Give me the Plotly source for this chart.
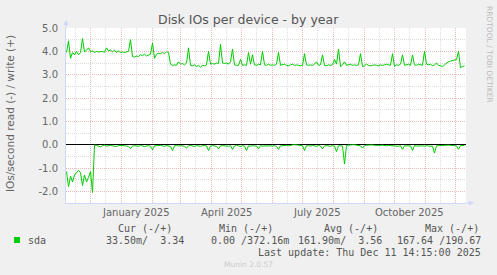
import plotly.graph_objects as go
import pandas as pd

# ---------------- data ----------------
range_start = "2024-11-06 14:15"
range_end = "2025-12-11 14:15"
sample_start = "2024-11-07 02:15"
sample_step = "2D"

write_ios = [
    3.95, 4.45, 3.70, 3.95, 3.85, 4.00, 3.85, 3.95, 4.55, 3.98,
    4.05, 4.15, 3.98, 4.02, 3.95, 4.00, 3.97, 3.98, 4.00, 3.96,
    4.15, 4.02, 4.05, 3.98, 4.05, 3.95, 4.02, 3.95, 3.97, 3.95,
    3.96, 4.00, 4.50, 3.78, 3.75, 3.80, 3.78, 3.85, 3.82, 3.88,
    3.80, 3.85, 3.88, 4.35, 3.70, 3.88, 3.92, 3.90, 3.95, 3.90,
    3.98, 3.95, 3.45, 3.40, 3.42, 3.40, 3.55, 3.45, 3.48, 3.42,
    3.50, 4.15, 3.40, 3.38, 3.42, 3.35, 3.40, 3.32, 3.40, 3.38,
    3.42, 4.00, 3.45, 3.48, 3.45, 3.50, 3.48, 4.30, 3.50, 3.48,
    3.50, 3.45, 3.55, 4.10, 3.42, 3.40, 3.40, 3.65, 3.40, 3.42,
    3.40, 3.95, 3.45, 3.85, 3.42, 3.40, 3.45, 3.42, 4.00, 3.42,
    3.40, 3.45, 3.40, 3.42, 3.40, 3.45, 3.95, 3.40, 3.42, 3.45,
    3.40, 3.38, 3.42, 3.45, 3.40, 3.42, 3.40, 3.38, 3.40, 3.90,
    3.42, 3.40, 3.42, 3.40, 3.45, 3.55, 3.40, 3.42, 3.85, 3.40,
    3.38, 3.42, 3.40, 3.42, 3.65, 3.45, 4.10, 3.35, 3.42, 3.55,
    3.40, 3.42, 3.45, 3.40, 3.42, 3.40, 3.42, 3.90, 3.35, 3.38,
    3.45, 3.40, 3.38, 3.40, 3.42, 3.40, 3.38, 3.42, 3.40, 3.42,
    3.45, 3.42, 3.40, 3.90, 3.35, 3.42, 3.40, 3.45, 3.85, 3.40,
    3.42, 3.45, 3.40, 3.85, 3.42, 3.40, 3.45, 3.42, 3.40, 4.00,
    3.45, 3.42, 3.45, 3.38, 3.42, 3.50, 3.40, 3.38, 3.35, 3.42,
    3.50, 3.55, 3.58, 3.60, 3.62, 3.65, 4.00, 3.30, 3.35, 3.38,
]

read_ios = [
    1.15, 1.80, 1.35, 1.60, 1.30, 1.20, 1.10, 1.20, 1.75, 1.30,
    1.60, 1.40, 1.15, 2.05, 0.02,
    0.03, 0.05, 0.10, 0.04, 0.02,
    0.06, 0.04, 0.03, 0.05, 0.08, 0.08, 0.04, 0.03, 0.05, 0.04,
    0.06, 0.08, 0.17, 0.06, 0.04, 0.05, 0.07, 0.03, 0.05, 0.08,
    0.06, 0.04, 0.07, 0.22, 0.05, 0.04, 0.06, 0.03, 0.05, 0.07,
    0.04, 0.06, 0.08, 0.25, 0.05, 0.03, 0.06, 0.04, 0.05, 0.07,
    0.15, 0.05, 0.03, 0.06, 0.08, 0.04, 0.05, 0.07, 0.04, 0.06,
    0.05, 0.25, 0.06, 0.04, 0.05, 0.07, 0.18, 0.05, 0.04, 0.06,
    0.05, 0.07, 0.04, 0.20, 0.06, 0.03, 0.05, 0.08, 0.04, 0.06,
    0.25, 0.05, 0.07, 0.04, 0.06, 0.05, 0.18, 0.04, 0.06, 0.05,
    0.07, 0.04, 0.05, 0.06, 0.04, 0.07, 0.20, 0.05, 0.04, 0.06,
    0.03, 0.05, 0.02, 0.01, 0.00, 0.01, 0.03, 0.05, 0.04, 0.25,
    0.05, 0.04, 0.06, 0.03, 0.05, 0.07, 0.04, 0.05, 0.18, 0.06,
    0.04, 0.05, 0.07, 0.04, 0.06, 0.30, 0.05, 0.04, 0.06, 0.83,
    0.04, 0.02, 0.01, 0.03, 0.00, 0.02, 0.04, 0.05, 0.15, 0.04,
    0.02, 0.01, 0.00, 0.01, 0.03, 0.04, 0.05, 0.03, 0.02, 0.04,
    0.05, 0.03, 0.04, 0.06, 0.04, 0.05, 0.07, 0.04, 0.20, 0.05,
    0.04, 0.06, 0.05, 0.25, 0.04, 0.06, 0.05, 0.03, 0.05, 0.07,
    0.04, 0.06, 0.05, 0.07, 0.36, 0.05, 0.04, 0.03, 0.05, 0.02,
    0.01, 0.02, 0.03, 0.02, 0.04, 0.05, 0.20, 0.04, 0.03, 0.03,
]

y_tick_vals = [-2, -1, 0, 1, 2, 3, 4, 5]
y_tick_text = ["-2.0", "-1.0", "0.0", "1.0", "2.0", "3.0", "4.0", "5.0"]
x_label_dates = ["2025-01-16", "2025-04-16", "2025-07-16", "2025-10-16"]
x_label_text = ["January 2025", "April 2025", "July 2025", "October 2025"]

title_text = "Disk IOs per device - by year"
y_title = "IOs/second read (-) / write (+)"
series_name = "sda"
legend_headers = ["Cur (-/+)", "Min (-/+)", "Avg (-/+)", "Max (-/+)"]
legend_values = ["33.50m/\u00a0\u00a03.34", "0.00 /372.16m", "161.90m/\u00a0\u00a03.56", "167.64 /190.67"]
last_update = "Last update: Thu Dec 11 14:15:00 2025"
side_text = "RRDTOOL / TOBI OETIKER"
footer_text = "Munin 2.0.57"

# ---------------- layout geometry ----------------
W, H = 497, 275
L, T = 66, 28
PW, PH = 400, 175
GREEN = "#00CC00"
FONT_C = "#666666"
AXIS_C = "#CFD6F8"
MGRID = "#EDB9B9"
GRID = "#DCDCDC"
SANS = "DejaVu Sans"
MONO = "DejaVu Sans Mono"


def px(x):
    return (x - L) / PW


def py(y):
    return (T + PH - y) / PH


dates = pd.date_range(sample_start, periods=len(write_ios), freq=sample_step)

fig = go.Figure()
fig.add_trace(go.Scatter(x=dates, y=write_ios, mode="lines",
                         line=dict(color=GREEN, width=1), hoverinfo="skip"))
fig.add_trace(go.Scatter(x=dates, y=[-v for v in read_ios], mode="lines",
                         line=dict(color=GREEN, width=1), hoverinfo="skip"))

fig.update_layout(
    width=W, height=H,
    margin=dict(l=L, r=W - L - PW, t=T, b=H - T - PH, pad=0),
    paper_bgcolor="#F0F0F0", plot_bgcolor="#FFFFFF",
    showlegend=False,
    font=dict(family=SANS, size=10, color=FONT_C),
    xaxis=dict(
        type="date", range=[range_start, range_end], fixedrange=True,
        showgrid=True, gridcolor=MGRID, griddash="1px,1px", gridwidth=1,
        tick0="2024-12-01", dtick="M1", showticklabels=False, ticks="",
        minor=dict(showgrid=True, gridcolor=GRID, griddash="1px,1px",
                   tick0="2024-11-16", dtick="M1", ticks=""),
        showline=True, linecolor=AXIS_C, linewidth=1, zeroline=False,
    ),
    yaxis=dict(
        range=[-2.5, 5.0], fixedrange=True,
        tickmode="array", tickvals=y_tick_vals, ticktext=y_tick_text,
        showgrid=True, gridcolor=MGRID, griddash="1px,1px", gridwidth=1,
        minor=dict(showgrid=True, gridcolor=GRID, griddash="1px,1px",
                   tickmode="linear", tick0=-2.5, dtick=0.5, ticks=""),
        ticks="", ticklabelstandoff=5,
        tickfont=dict(family=SANS, size=10, color=FONT_C),
        zeroline=True, zerolinecolor="#000000", zerolinewidth=1,
        showline=True, linecolor=AXIS_C, linewidth=1,
    ),
)

ann = []
ann.append(dict(text=title_text, x=px(248), y=py(19), xref="paper", yref="paper",
                showarrow=False, xanchor="center", yanchor="middle",
                font=dict(family=SANS, size=12.5, color="#555555")))
ann.append(dict(text=y_title, x=px(10), y=py(114), xref="paper", yref="paper",
                showarrow=False, textangle=-90, xanchor="center", yanchor="middle",
                font=dict(family=SANS, size=10.5, color=FONT_C)))
for d, t in zip(x_label_dates, x_label_text):
    ann.append(dict(text=t, x=d, y=py(212.5), xref="x", yref="paper",
                    showarrow=False, xanchor="center", yanchor="middle",
                    font=dict(family=SANS, size=10, color=FONT_C)))
ann.append(dict(text=side_text, x=px(490), y=py(54), xref="paper", yref="paper",
                showarrow=False, textangle=90, xanchor="center", yanchor="middle",
                font=dict(family=SANS, size=7.5, color="#BBBBBB")))
ann.append(dict(text=footer_text, x=px(248), y=py(264), xref="paper", yref="paper",
                showarrow=False, xanchor="center", yanchor="middle",
                font=dict(family=SANS, size=7.5, color="#CCCCCC")))

header_x = [116, 216.5, 321.5, 422.5]
value_x = [104, 209, 296, 395]
for hx, t in zip(header_x, legend_headers):
    ann.append(dict(text=t, x=px(hx), y=py(228), xref="paper", yref="paper",
                    showarrow=False, xanchor="left", yanchor="middle",
                    font=dict(family=MONO, size=10, color="#555555")))
for vx, t in zip(value_x, legend_values):
    ann.append(dict(text=t, x=px(vx), y=py(240), xref="paper", yref="paper",
                    showarrow=False, xanchor="left", yanchor="middle",
                    font=dict(family=MONO, size=10, color="#555555")))
ann.append(dict(text=series_name, x=px(26), y=py(240), xref="paper", yref="paper",
                showarrow=False, xanchor="left", yanchor="middle",
                font=dict(family=MONO, size=10, color="#555555")))
ann.append(dict(text=last_update, x=px(483), y=py(252), xref="paper", yref="paper",
                showarrow=False, xanchor="right", yanchor="middle",
                font=dict(family=MONO, size=10, color="#555555")))
fig.update_layout(annotations=ann)

shapes = []
# legend swatch
shapes.append(dict(type="rect", xref="paper", yref="paper",
                   x0=px(14), x1=px(20), y0=py(243), y1=py(237),
                   fillcolor=GREEN, line=dict(width=0)))
# y-axis extension + arrow
shapes.append(dict(type="line", xref="paper", yref="paper",
                   x0=px(66), x1=px(66), y0=py(28), y1=py(24),
                   line=dict(color=AXIS_C, width=1)))
shapes.append(dict(type="path", xref="paper", yref="paper",
                   path=f"M {px(63.5)},{py(25)} L {px(68.5)},{py(25)} L {px(66)},{py(20)} Z",
                   fillcolor=AXIS_C, line=dict(width=0)))
# x-axis extension + arrow
shapes.append(dict(type="line", xref="paper", yref="paper",
                   x0=px(466), x1=px(470), y0=py(203), y1=py(203),
                   line=dict(color=AXIS_C, width=1)))
shapes.append(dict(type="path", xref="paper", yref="paper",
                   path=f"M {px(469)},{py(200.5)} L {px(469)},{py(205.5)} L {px(474)},{py(203)} Z",
                   fillcolor=AXIS_C, line=dict(width=0)))
fig.update_layout(shapes=shapes)

fig.write_html("out.html")
